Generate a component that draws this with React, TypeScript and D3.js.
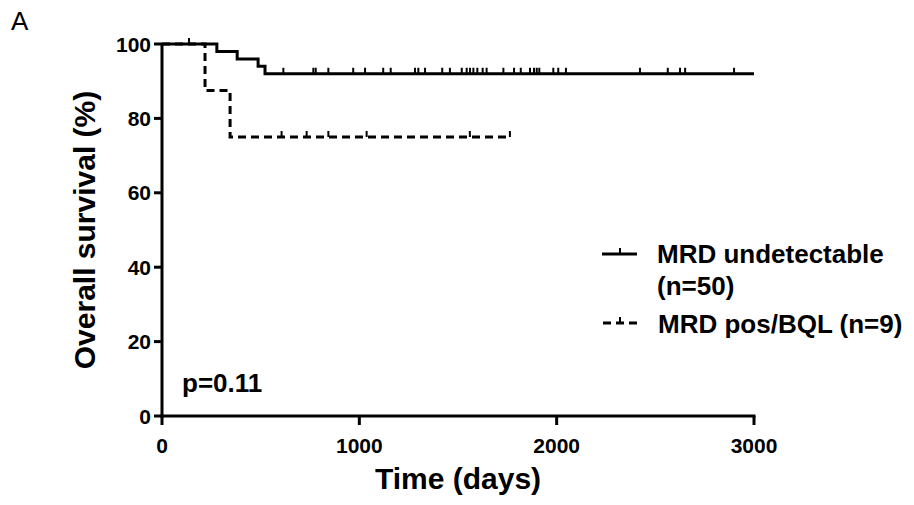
import React from "react";
import * as d3 from "d3";

const timeTicks = [0, 1000, 2000, 3000];
const survivalTicks = [0, 20, 40, 60, 80, 100];

// MRD undetectable (n=50): step times and survival after each step
const undetTimes = [0, 278, 381, 487, 522];
const undetSurvival = [100, 98, 96, 94, 92];
const undetEnd = 3000;
const undetCensored = [
  137, 615, 767, 779, 843, 969, 1029, 1121, 1159, 1282, 1299, 1333, 1420, 1459,
  1519, 1544, 1561, 1578, 1598, 1625, 1645, 1730, 1784, 1818, 1865, 1885, 1899,
  1912, 1983, 2008, 2047, 2422, 2563, 2625, 2651, 2899,
];

// MRD pos/BQL (n=9)
const posTimes = [0, 218, 345];
const posSurvival = [100, 87.5, 75];
const posEnd = 1763;
const posCensored = [606, 733, 843, 1037, 1560, 1763];

const W = 914;
const H = 505;
const FONT = "'Liberation Sans', Arial, Helvetica, sans-serif";

export default function App() {
  const x = d3.scaleLinear().domain([0, 3000]).range([162, 754]);
  const y = d3.scaleLinear().domain([0, 100]).range([416, 44]);

  const line = d3
    .line<[number, number]>()
    .x((d) => x(d[0]))
    .y((d) => y(d[1]))
    .curve(d3.curveStepAfter);

  const mkPts = (times: number[], vals: number[], end: number) => {
    const pts: [number, number][] = times.map((t, i) => [t, vals[i]]);
    pts.push([end, vals[vals.length - 1]]);
    return pts;
  };
  const valAt = (times: number[], vals: number[], t: number) => {
    let v = vals[0];
    for (let i = 0; i < times.length; i++) if (times[i] <= t) v = vals[i];
    return v;
  };

  const undetPath = line(mkPts(undetTimes, undetSurvival, undetEnd)) || "";
  const posPath = line(mkPts(posTimes, posSurvival, posEnd)) || "";

  const tickH = 6;

  return (
    <svg
      width={W}
      height={H}
      style={{ position: "fixed", left: 0, top: 0, background: "#fff" }}
      fontFamily={FONT}
    >
      <rect width={W} height={H} fill="#fff" />
      <text x={11} y={30} fontSize={26} fill="#000">
        A
      </text>

      {/* curves */}
      <path d={undetPath} fill="none" stroke="#000" strokeWidth={3} />
      {undetCensored.map((t, i) => (
        <line
          key={"uc" + i}
          x1={x(t)}
          x2={x(t)}
          y1={y(valAt(undetTimes, undetSurvival, t))}
          y2={y(valAt(undetTimes, undetSurvival, t)) - tickH}
          stroke="#000"
          strokeWidth={2}
        />
      ))}
      <path
        d={posPath}
        fill="none"
        stroke="#000"
        strokeWidth={3}
        strokeDasharray="8,5"
      />
      {posCensored.map((t, i) => (
        <line
          key={"pc" + i}
          x1={x(t)}
          x2={x(t)}
          y1={y(valAt(posTimes, posSurvival, t))}
          y2={y(valAt(posTimes, posSurvival, t)) - tickH}
          stroke="#000"
          strokeWidth={2}
        />
      ))}

      {/* axes */}
      <line x1={x(0)} x2={x(0)} y1={y(0) + 1.5} y2={y(100)} stroke="#000" strokeWidth={3} />
      <line x1={x(0) - 1.5} x2={x(3000) + 1.5} y1={y(0)} y2={y(0)} stroke="#000" strokeWidth={3} />
      {survivalTicks.map((v) => (
        <g key={"yt" + v}>
          <line x1={x(0) - 8} x2={x(0)} y1={y(v)} y2={y(v)} stroke="#000" strokeWidth={3} />
          <text
            x={151}
            y={y(v)}
            dy="0.36em"
            textAnchor="end"
            fontSize={21}
            fontWeight="bold"
          >
            {v}
          </text>
        </g>
      ))}
      {timeTicks.map((t) => (
        <g key={"xt" + t}>
          <line x1={x(t)} x2={x(t)} y1={y(0)} y2={y(0) + 9} stroke="#000" strokeWidth={3} />
          <text x={x(t)} y={453} textAnchor="middle" fontSize={21} fontWeight="bold">
            {t}
          </text>
        </g>
      ))}

      <text x={458} y={489} textAnchor="middle" fontSize={30} fontWeight="bold">
        Time (days)
      </text>
      <text
        transform="translate(95,230) rotate(-90)"
        textAnchor="middle"
        fontSize={30}
        fontWeight="bold"
      >
        Overall survival (%)
      </text>

      <text x={182} y={392} fontSize={26} fontWeight="bold">
        p=0.11
      </text>

      {/* legend */}
      <line x1={602} x2={637} y1={254} y2={254} stroke="#000" strokeWidth={3} />
      <line x1={620} x2={620} y1={254} y2={248} stroke="#000" strokeWidth={2} />
      <text x={657} y={263} fontSize={26} fontWeight="bold">
        MRD undetectable
      </text>
      <text x={657} y={295} fontSize={26} fontWeight="bold">
        (n=50)
      </text>
      <line
        x1={603}
        x2={638}
        y1={323}
        y2={323}
        stroke="#000"
        strokeWidth={3}
        strokeDasharray="8,5"
      />
      <line x1={620} x2={620} y1={323} y2={317} stroke="#000" strokeWidth={2} />
      <text x={658} y={333} fontSize={26} fontWeight="bold">
        MRD pos/BQL (n=9)
      </text>
    </svg>
  );
}
